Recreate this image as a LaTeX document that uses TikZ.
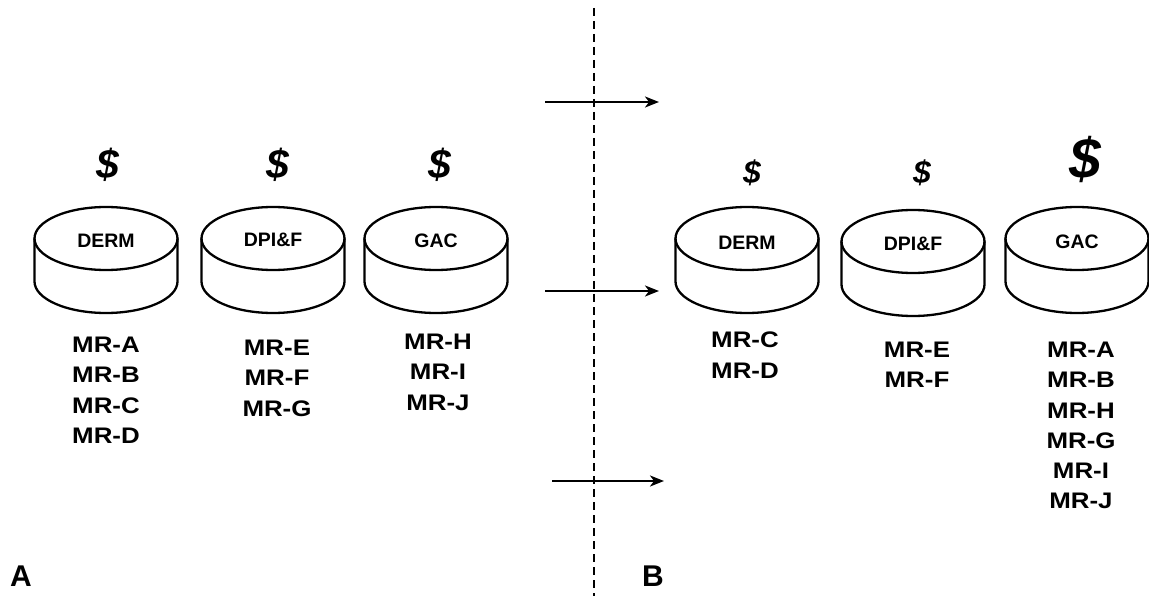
\documentclass[tikz,border=0pt]{standalone}
\usepackage{fontspec}
\setmainfont{Liberation Sans}
\usetikzlibrary{arrows.meta}

% a drum (short cylinder) centred on the current origin
\newcommand{\drumshape}{%
  \draw[drumline] (0,0) ellipse [x radius=71.5pt, y radius=31.5pt];
  \draw[drumline] (-71.5,0) -- (-71.5,43)
    arc[start angle=180, end angle=360, x radius=71.5pt, y radius=31.5pt]
    -- (71.5,0);
}

\begin{document}
\begin{tikzpicture}[x=1pt, y=-1pt,
  drumline/.style={line width=2.3pt, line join=round},
  drumlabel/.style={inner sep=0pt, font=\fontsize{19.5}{22}\selectfont\bfseries},
  mrlist/.style={inner sep=0pt, anchor=north, align=center,
    font=\fontsize{22.5}{30.2}\selectfont\bfseries},
  money/.style={inner sep=0pt, font=\fontsize{41}{44}\selectfont\bfseries\itshape},
  moneysmall/.style={money, font=\fontsize{32}{34}\selectfont\bfseries\itshape},
  moneybig/.style={money, font=\fontsize{57}{60}\selectfont\bfseries\itshape},
  panel/.style={inner sep=0pt, font=\fontsize{30}{32}\selectfont\bfseries},
  flow/.style={line width=2.2pt, -{Stealth[length=14pt, width=11pt, inset=4pt]}},
  divider/.style={line width=2.8pt, dash pattern=on 8pt off 5pt}]

\useasboundingbox (0,0) rectangle (1149,596);

% ---------- panel A ----------
\begin{scope}[shift={(106,238.5)}] \drumshape \end{scope}
\begin{scope}[shift={(273,238.5)}] \drumshape \end{scope}
\begin{scope}[shift={(436,238.5)}] \drumshape \end{scope}

\node[drumlabel] (dermA) at (106,241) {DERM};
\node[drumlabel] (dpifA) at (273,240) {DPI\&F};
\node[drumlabel] (gacA)  at (436,241) {GAC};

\node[money] (costDermA) at (108,165) {\$};
\node[money] (costDpifA) at (278,165) {\$};
\node[money] (costGacA)  at (440,165) {\$};

\node[mrlist] (listDermA) at (106,337) {\scalebox{1.15}[1]{MR-A}\\\scalebox{1.15}[1]{MR-B}\\\scalebox{1.15}[1]{MR-C}\\\scalebox{1.15}[1]{MR-D}};
\node[mrlist] (listDpifA) at (277,340) {\scalebox{1.15}[1]{MR-E}\\\scalebox{1.15}[1]{MR-F}\\\scalebox{1.15}[1]{MR-G}};
\node[mrlist] (listGacA)  at (438,334) {\scalebox{1.15}[1]{MR-H}\\\scalebox{1.15}[1]{MR-I}\\\scalebox{1.15}[1]{MR-J}};

\node[panel] (labelA) at (21,576) {A};

% ---------- divider and transition arrows ----------
\coordinate (divTop) at (594,8);
\coordinate (divBot) at (594,596);
\draw[divider] (divTop) -- (divBot);

\coordinate (flow1s) at (545,102);
\coordinate (flow1e) at (659,102);
\coordinate (flow2s) at (545,291);
\coordinate (flow2e) at (659,291);
\coordinate (flow3s) at (552,481);
\coordinate (flow3e) at (664,481);
\draw[flow] (flow1s) -- (flow1e);
\draw[flow] (flow2s) -- (flow2e);
\draw[flow] (flow3s) -- (flow3e);

% ---------- panel B ----------
\begin{scope}[shift={(747,238.5)}] \drumshape \end{scope}
\begin{scope}[shift={(913,241.5)}] \drumshape \end{scope}
\begin{scope}[shift={(1077,238.5)}] \drumshape \end{scope}

\node[drumlabel] (dermB) at (747,243) {DERM};
\node[drumlabel] (dpifB) at (913,244) {DPI\&F};
\node[drumlabel] (gacB)  at (1077,242) {GAC};

\node[moneysmall] (costDermB) at (752,173) {\$};
\node[moneysmall] (costDpifB) at (922,173) {\$};
\node[moneybig]   (costGacB)  at (1085,159) {\$};

\node[mrlist] (listDermB) at (745,332) {\scalebox{1.15}[1]{MR-C}\\\scalebox{1.15}[1]{MR-D}};
\node[mrlist] (listDpifB) at (917,342) {\scalebox{1.15}[1]{MR-E}\\\scalebox{1.15}[1]{MR-F}};
\node[mrlist] (listGacB)  at (1081,342) {\scalebox{1.15}[1]{MR-A}\\\scalebox{1.15}[1]{MR-B}\\\scalebox{1.15}[1]{MR-H}\\\scalebox{1.15}[1]{MR-G}\\\scalebox{1.15}[1]{MR-I}\\\scalebox{1.15}[1]{MR-J}};

\node[panel] (labelB) at (653,576) {B};

\end{tikzpicture}
\end{document}
